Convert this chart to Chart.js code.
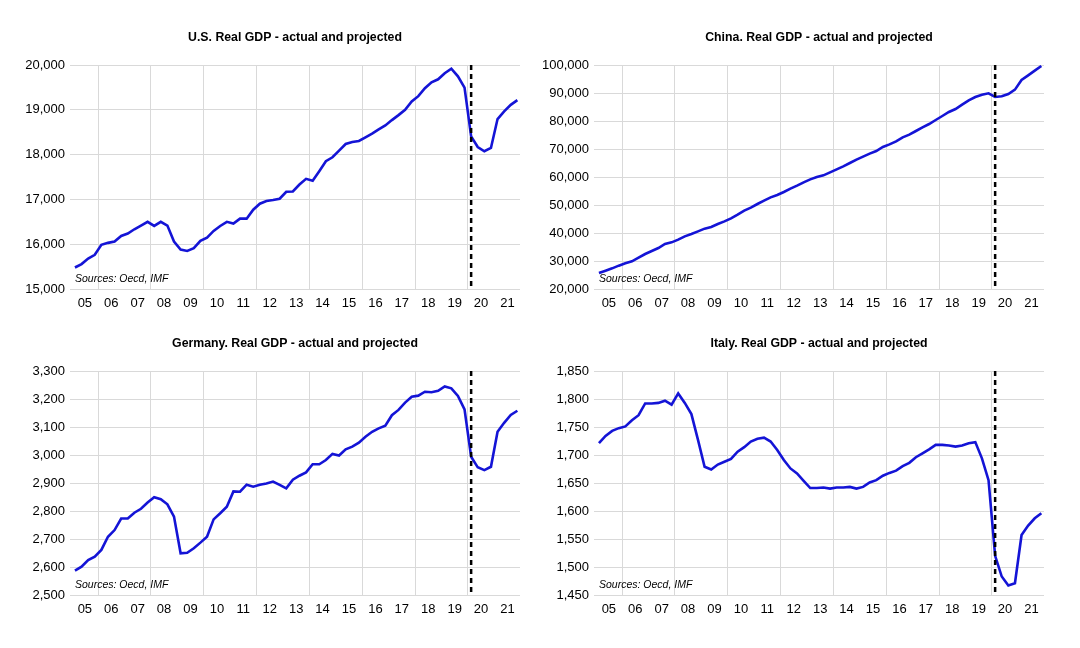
<!DOCTYPE html>
<html>
<head>
<meta charset="utf-8">
<script src="https://cdn.jsdelivr.net/npm/chart.js@4.4.0/dist/chart.umd.min.js"></script>
<style>
    body { margin: 0; background: #fff; }
    #wrap { position: relative; width: 1080px; height: 648px; }
    canvas { position: absolute; }
</style>
</head>
<body>
<div id="wrap">
    <canvas id="usChart" width="540" height="324" style="left:0;top:0"></canvas>
    <canvas id="chinaChart" width="540" height="324" style="left:540px;top:0"></canvas>
    <canvas id="germanyChart" width="540" height="324" style="left:0;top:306px"></canvas>
    <canvas id="italyChart" width="540" height="324" style="left:540px;top:306px"></canvas>
</div>
<script>
// Quarterly real GDP, 2005Q1 - 2021Q4 (2020 onwards projected)
const yearLabels = ['05', '06', '07', '08', '09', '10', '11', '12', '13', '14', '15', '16', '17', '18', '19', '20', '21'];
const quarters = yearLabels.flatMap(y => ['Q1', 'Q2', 'Q3', 'Q4'].map(q => y + q));

// first projected quarter (2020Q1) - dashed line
const projectionStart = '20Q1';

const usGdp = [
    15480, 15556, 15681, 15763, 15985, 16030, 16060, 16185, 16237, 16333, 16415, 16500,
    16407, 16500, 16415, 16060, 15880, 15850, 15911, 16074, 16148, 16296, 16407, 16500,
    16460, 16570, 16570, 16770, 16904, 16963, 16985, 17015, 17170, 17178, 17333, 17459,
    17415, 17630, 17852, 17940, 18089, 18237, 18281, 18304, 18385, 18467, 18563, 18652,
    18770, 18881, 19000, 19185, 19304, 19481, 19615, 19681, 19815, 19919, 19748, 19496,
    18407, 18170, 18074, 18148, 18793, 18963, 19111, 19215
];
const chinaGdp = [
    25714, 26548, 27381, 28333, 29167, 29881, 31190, 32500, 33571, 34643, 36071, 36667,
    37619, 38810, 39643, 40595, 41548, 42143, 43214, 44167, 45238, 46548, 47976, 49048,
    50357, 51548, 52738, 53571, 54643, 55833, 56905, 58095, 59167, 60000, 60595, 61667,
    62738, 63810, 65000, 66190, 67262, 68333, 69286, 70714, 71667, 72738, 74167, 75119,
    76429, 77738, 78929, 80357, 81786, 83214, 84286, 85833, 87381, 88571, 89405, 89881,
    88571, 88810, 89643, 91190, 94643, 96310, 97976, 99643
];
const germanyGdp = [
    2587, 2601, 2625, 2637, 2661, 2708, 2732, 2773, 2773, 2794, 2808, 2830,
    2849, 2842, 2824, 2780, 2649, 2651, 2667, 2687, 2708, 2770, 2792, 2815,
    2870, 2869, 2894, 2887, 2894, 2898, 2905, 2893, 2881, 2912, 2926, 2938,
    2967, 2967, 2982, 3004, 2998, 3020, 3030, 3044, 3065, 3083, 3095, 3105,
    3142, 3161, 3187, 3208, 3212, 3226, 3224, 3229, 3245, 3238, 3211, 3163,
    2994, 2956, 2946, 2958, 3083, 3115, 3143, 3158
];
const italyGdp = [
    1721, 1734, 1743, 1748, 1751, 1762, 1771, 1792, 1792, 1793, 1797, 1790,
    1810, 1793, 1773, 1727, 1679, 1674, 1683, 1688, 1693, 1706, 1714, 1724,
    1729, 1731, 1724, 1709, 1691, 1676, 1667, 1654, 1641, 1641, 1642, 1640,
    1642, 1642, 1643, 1640, 1643, 1651, 1655, 1663, 1668, 1672, 1680, 1686,
    1696, 1703, 1710, 1718, 1718, 1717, 1715, 1717, 1721, 1723, 1694, 1655,
    1520, 1483, 1467, 1471, 1557, 1574, 1587, 1596
];

// x positions: year label ticks sit mid-year, grid lines every second year boundary
const labelTicks = yearLabels.map((y, i) => ({ value: i * 4 + 1.5, label: y }));
const gridTicks = [3.5, 11.5, 19.5, 27.5, 35.5, 43.5, 51.5, 59.5].map(v => ({ value: v, label: '' }));

const fmt = v => v.toLocaleString('en-US');
const FONT = '"Liberation Sans", Arial, sans-serif';

const panelPlugin = {
    id: 'panelDecor',
    afterDatasetsDraw(chart, args, opts) {
        const { ctx, chartArea, scales } = chart;
        const px = scales.x.getPixelForValue(quarters.indexOf(projectionStart));
        ctx.save();
        ctx.strokeStyle = '#000';
        ctx.lineWidth = 2.5;
        ctx.setLineDash([5, 4]);
        ctx.beginPath();
        ctx.moveTo(px, chartArea.top);
        ctx.lineTo(px, chartArea.bottom);
        ctx.stroke();
        ctx.setLineDash([]);

        ctx.fillStyle = '#000';
        ctx.font = 'italic 10.5px ' + FONT;
        ctx.textAlign = 'left';
        ctx.textBaseline = 'middle';
        ctx.fillText('Sources: Oecd, IMF', chartArea.left + 5, chartArea.bottom - 10);

        ctx.font = 'bold 12.3px ' + FONT;
        ctx.textAlign = 'center';
        ctx.fillText(opts.title, (chartArea.left + chartArea.right) / 2, chartArea.top - 27);
        ctx.restore();
    }
};

function makeChart(id, title, values, yMin, yMax, step, axisWidth, padRight) {
    return new Chart(document.getElementById(id), {
        type: 'line',
        data: {
            datasets: [{
                data: values.map((v, i) => ({ x: i, y: v })),
                borderColor: '#1414d6',
                borderWidth: 2.6,
                pointRadius: 0,
                tension: 0
            }]
        },
        options: {
            responsive: false,
            animation: false,
            devicePixelRatio: 1,
            layout: { padding: { top: 65, right: padRight, bottom: 0, left: 0 } },
            plugins: {
                legend: { display: false },
                tooltip: { enabled: false },
                panelDecor: { title: title }
            },
            scales: {
                x: {
                    type: 'linear',
                    min: -0.75,
                    max: 67.4,
                    afterBuildTicks: s => { s.ticks = labelTicks.concat(gridTicks).sort((a, b) => a.value - b.value); },
                    afterFit: s => { s.height = 35; },
                    border: { display: false },
                    grid: {
                        drawTicks: false,
                        color: c => (c.tick && c.tick.label === '') ? '#d9d9d9' : 'rgba(0,0,0,0)'
                    },
                    ticks: {
                        autoSkip: false,
                        maxRotation: 0,
                        padding: 7,
                        color: '#000',
                        font: { family: FONT, size: 13 },
                        callback: (v, i, ticks) => ticks[i].label
                    }
                },
                y: {
                    min: yMin,
                    max: yMax,
                    afterFit: s => { s.width = axisWidth; },
                    border: { display: false },
                    grid: { color: '#d9d9d9', drawTicks: false },
                    ticks: {
                        stepSize: step,
                        padding: 5,
                        color: '#000',
                        font: { family: FONT, size: 13 },
                        callback: v => fmt(v)
                    }
                }
            }
        },
        plugins: [panelPlugin]
    });
}

document.addEventListener('DOMContentLoaded', () => {
    makeChart('usChart', 'U.S. Real GDP - actual and projected', usGdp, 15000, 20000, 1000, 70, 20);
    makeChart('chinaChart', 'China. Real GDP - actual and projected', chinaGdp, 20000, 100000, 10000, 54, 36);
    makeChart('germanyChart', 'Germany. Real GDP - actual and projected', germanyGdp, 2500, 3300, 100, 70, 20);
    makeChart('italyChart', 'Italy. Real GDP - actual and projected', italyGdp, 1450, 1850, 50, 54, 36);
});
</script>
</body>
</html>
